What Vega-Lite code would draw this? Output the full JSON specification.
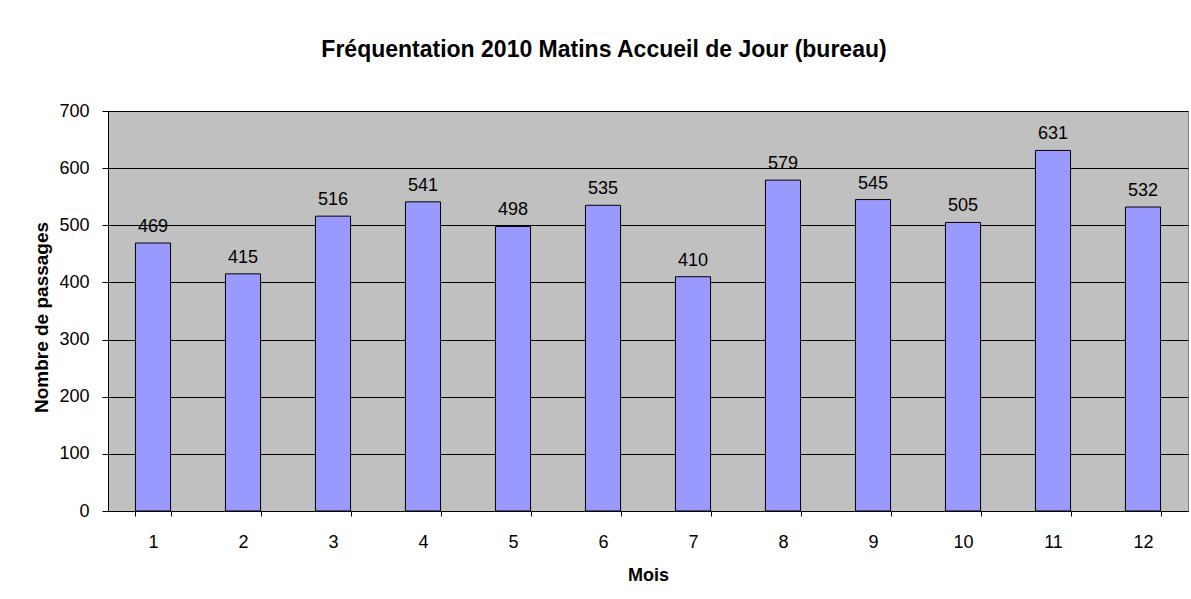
{
  "$schema": "https://vega.github.io/schema/vega-lite/v6.json",
  "width": 1080,
  "height": 400,
  "autosize": {"type": "none"},
  "padding": {"left": 108, "top": 111, "right": 3, "bottom": 88},
  "background": "white",
  "title": {
    "text": "Fréquentation 2010 Matins Accueil de Jour (bureau)",
    "font": "Liberation Sans",
    "fontSize": 23,
    "fontWeight": "bold",
    "color": "black",
    "anchor": "middle",
    "dx": -44,
    "offset": 40
  },
  "data": {
    "values": [
      {"mois": "1", "passages": 469},
      {"mois": "2", "passages": 415},
      {"mois": "3", "passages": 516},
      {"mois": "4", "passages": 541},
      {"mois": "5", "passages": 498},
      {"mois": "6", "passages": 535},
      {"mois": "7", "passages": 410},
      {"mois": "8", "passages": 579},
      {"mois": "9", "passages": 545},
      {"mois": "10", "passages": 505},
      {"mois": "11", "passages": 631},
      {"mois": "12", "passages": 532}
    ]
  },
  "encoding": {
    "x": {
      "field": "mois",
      "type": "ordinal",
      "sort": null,
      "scale": {"paddingInner": 0.61, "paddingOuter": 0.305},
      "axis": {
        "title": "Mois",
        "titleFont": "Liberation Sans",
        "titleFontSize": 18,
        "titleFontWeight": "bold",
        "titleColor": "black",
        "titleY": 64,
        "titleBaseline": "middle",
        "labelAngle": 0,
        "labelFont": "Liberation Sans",
        "labelFontSize": 18,
        "labelColor": "black",
        "labelPadding": 17,
        "tickBand": "extent",
        "tickSize": 5,
        "tickColor": "black",
        "domainColor": "black",
        "grid": false
      }
    },
    "y": {
      "field": "passages",
      "type": "quantitative",
      "scale": {"domain": [0, 700], "nice": false},
      "axis": {
        "title": "Nombre de passages",
        "titleFont": "Liberation Sans",
        "titleFontSize": 19,
        "titleFontWeight": "bold",
        "titleColor": "black",
        "titleAngle": -90,
        "titleX": -67,
        "titleY": 206,
        "titleBaseline": "middle",
        "values": [0, 100, 200, 300, 400, 500, 600, 700],
        "labelFont": "Liberation Sans",
        "labelFontSize": 18,
        "labelColor": "black",
        "labelPadding": 13,
        "tickSize": 6,
        "tickColor": "black",
        "domainColor": "black",
        "grid": true,
        "gridColor": "black",
        "gridWidth": 1,
        "gridOpacity": 1
      }
    }
  },
  "layer": [
    {
      "mark": {"type": "bar", "fill": "#9999FF", "stroke": "black", "strokeWidth": 1}
    },
    {
      "mark": {
        "type": "text",
        "baseline": "bottom",
        "dy": -7,
        "font": "Liberation Sans",
        "fontSize": 18,
        "color": "black"
      },
      "encoding": {"text": {"field": "passages", "type": "quantitative"}}
    }
  ],
  "config": {
    "view": {"fill": "#C0C0C0", "stroke": "#808080", "strokeWidth": 1}
  }
}
